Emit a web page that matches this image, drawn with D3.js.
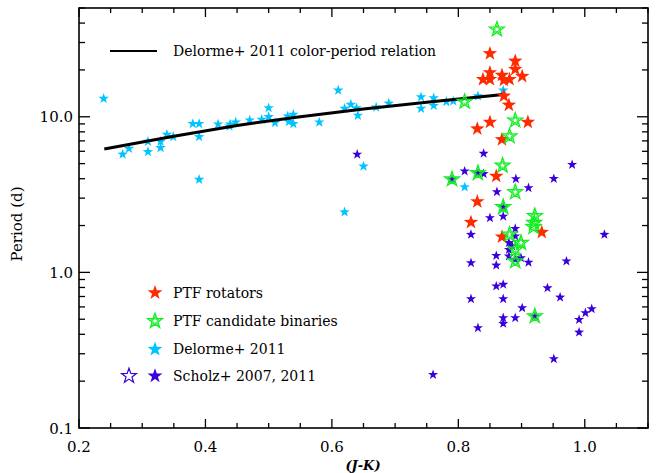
<!DOCTYPE html>
<html><head><meta charset="utf-8">
<script src="https://cdn.jsdelivr.net/npm/d3@7"></script>
<style>body{margin:0;background:#fff}svg{display:block}text{font-family:"DejaVu Serif",serif;fill:#000}</style>
</head><body><svg id="c" width="657" height="473"></svg>
<script>
// ---- data ----
const xTickValues = [0.2, 0.4, 0.6, 0.8, 1.0];
const yTickValues = [0.1, 1, 10];
const xDomain = [0.2, 1.1];
const yDomain = [0.1, 50];

// Delorme+ 2011 color-period relation
const relJK = [0.24, 0.35, 0.45, 0.55, 0.65, 0.75, 0.871];
const relP  = [6.2, 7.5, 8.8, 10.0, 11.2, 12.4, 13.9];

// Delorme+ 2011 (cyan)
const delJK = [0.239,0.269,0.279,0.309,0.309,0.329,0.329,0.339,0.349,0.380,0.390,0.390,0.390,0.420,0.439,0.438,0.448,0.470,0.489,0.500,0.500,0.510,0.530,0.539,0.539,0.532,0.580,0.610,0.620,0.630,0.639,0.641,0.620,0.650,0.670,0.690,0.741,0.741,0.761,0.761,0.781,0.792,0.831,0.871,0.810];
const delP  = [13.1,5.73,6.25,6.93,5.95,6.93,6.32,7.69,7.43,9.02,9.02,7.43,3.95,8.96,8.96,8.7,9.23,9.51,9.61,11.4,10.0,9.15,10.09,10.35,9.02,9.29,9.23,14.8,11.3,12.0,11.4,10.2,2.44,4.81,11.5,12.2,13.4,11.3,13.2,11.8,12.5,12.6,13.6,14.8,3.53];

// PTF rotators (red)
const rotJK = [0.850,0.890,0.890,0.901,0.839,0.850,0.850,0.869,0.872,0.881,0.872,0.880,0.850,0.830,0.910,0.869,0.860,0.830,0.820,0.932,0.869];
const rotP  = [25.5,22.8,20.2,18.2,17.4,17.4,19.2,18.5,17.2,17.4,13.6,11.9,9.23,8.37,9.23,7.14,4.15,2.85,2.10,1.81,1.69];

// PTF candidate binaries (green)
const binJK = [0.861,0.810,0.890,0.881,0.870,0.790,0.831,0.890,0.871,0.921,0.920,0.919,0.881,0.899,0.890,0.890,0.921];
const binP  = [36.4,12.5,9.47,7.5,4.86,3.97,4.35,3.28,2.63,2.30,2.08,1.96,1.75,1.55,1.40,1.18,0.523];

// Scholz+ 2007, 2011 (blue)
const schJK = [0.640,0.840,0.810,0.840,0.891,0.951,0.980,0.911,0.861,0.850,0.871,0.820,0.890,1.031,0.880,0.890,0.880,0.880,0.860,0.860,0.820,0.890,0.911,0.971,0.899,0.860,0.871,0.941,0.820,0.871,0.961,0.901,0.890,0.871,0.871,0.831,0.991,1.001,1.011,0.991,0.951,0.760,0.790,0.831,0.871,0.921,0.885];
const schP  = [5.73,5.81,4.47,4.30,3.99,4.00,4.92,3.49,3.29,2.24,2.29,1.75,1.91,1.75,1.55,1.71,1.40,1.27,1.28,1.11,1.15,1.21,1.16,1.18,1.24,0.815,0.836,0.794,0.676,0.676,0.692,0.591,0.510,0.510,0.469,0.440,0.497,0.549,0.583,0.412,0.278,0.220,3.97,4.35,2.63,0.523,1.48];

const legendLabels = ["PTF rotators","PTF candidate binaries","Delorme+ 2011","Scholz+ 2007, 2011"];
const lineLabel = "Delorme+ 2011 color-period relation";

// ---- styles ----
const C_RED = "#ff2a00", C_GREEN = "#11ee22", C_CYAN = "#00c4ff", C_BLUE = "#3a00dc";

const svg = d3.select("#c");
const L = 79, R = 648, T = 8, B = 428;
const x = d3.scaleLinear().domain(xDomain).range([L, R]);
const y = d3.scaleLog().domain(yDomain).range([B, T]);

function starPath(Rad, ratio) {
  ratio = ratio || 0.4;
  const p = [];
  for (let i = 0; i < 10; i++) {
    const a = -Math.PI / 2 + i * Math.PI / 5;
    const r = i % 2 ? Rad * ratio : Rad;
    p.push([(r * Math.cos(a)).toFixed(2), (r * Math.sin(a)).toFixed(2)]);
  }
  return "M" + p.join("L") + "Z";
}

// minor ticks
const xMinor = d3.range(0.2, 1.1001, 0.05).map(v => +v.toFixed(2));
const yMinor = [];
[0.1, 1, 10].forEach(d => { for (let k = 2; k <= 9; k++) { const v = d * k; if (v <= 50) yMinor.push(v); } });

const ax = svg.append("g");
// frame
ax.append("rect").attr("x", L).attr("y", T).attr("width", R - L).attr("height", B - T)
  .attr("fill", "none").attr("stroke", "#000").attr("stroke-width", 1.6);

// x ticks bottom/top
xMinor.forEach(v => {
  const major = xTickValues.some(t => Math.abs(t - v) < 1e-6);
  const len = major ? 9 : 5;
  ax.append("line").attr("x1", x(v)).attr("x2", x(v)).attr("y1", B).attr("y2", B - len).attr("stroke", "#000").attr("stroke-width", 1.3);
  ax.append("line").attr("x1", x(v)).attr("x2", x(v)).attr("y1", T).attr("y2", T + len).attr("stroke", "#000").attr("stroke-width", 1.3);
});
// y ticks left/right
yTickValues.forEach(v => {
  ax.append("line").attr("x1", L).attr("x2", L + 11).attr("y1", y(v)).attr("y2", y(v)).attr("stroke", "#000").attr("stroke-width", 1.3);
  ax.append("line").attr("x1", R).attr("x2", R - 11).attr("y1", y(v)).attr("y2", y(v)).attr("stroke", "#000").attr("stroke-width", 1.3);
});
yMinor.forEach(v => {
  ax.append("line").attr("x1", L).attr("x2", L + 6).attr("y1", y(v)).attr("y2", y(v)).attr("stroke", "#000").attr("stroke-width", 1.3);
  ax.append("line").attr("x1", R).attr("x2", R - 6).attr("y1", y(v)).attr("y2", y(v)).attr("stroke", "#000").attr("stroke-width", 1.3);
});

// tick labels
const fmt = d3.format(".1f");
xTickValues.forEach(v => {
  ax.append("text").attr("x", x(v)).attr("y", 452).attr("text-anchor", "middle").attr("font-size", 15).text(fmt(v));
});
yTickValues.forEach(v => {
  ax.append("text").attr("x", 73).attr("y", y(v) + 5.5).attr("text-anchor", "end").attr("font-size", 15).text(fmt(v));
});
// axis titles
svg.append("text").attr("x", 363).attr("y", 470).attr("text-anchor", "middle")
  .attr("font-size", 13).attr("font-weight", "bold").attr("font-style", "italic").text("(J-K)");
svg.append("text").attr("transform", "translate(22,224) rotate(-90)").attr("text-anchor", "middle")
  .attr("font-size", 15).text("Period (d)");

// clip
svg.append("clipPath").attr("id", "clip").append("rect").attr("x", L).attr("y", T).attr("width", R - L).attr("height", B - T);
const plot = svg.append("g").attr("clip-path", "url(#clip)");

// Delorme points
const delData = delJK.map((v, i) => [v, delP[i]]);
plot.selectAll("path.del").data(delData).enter().append("path").attr("class", "del")
  .attr("d", starPath(5.5)).attr("transform", d => `translate(${x(d[0])},${y(d[1])})`).attr("fill", C_CYAN);

// relation line
const relData = relJK.map((v, i) => [v, relP[i]]);
plot.append("path").datum(relData).attr("d", d3.line().x(d => x(d[0])).y(d => y(d[1])))
  .attr("fill", "none").attr("stroke", "#000").attr("stroke-width", 3);

// Scholz
const schData = schJK.map((v, i) => [v, schP[i]]);
plot.selectAll("path.sch").data(schData).enter().append("path").attr("class", "sch")
  .attr("d", starPath(5.3)).attr("transform", d => `translate(${x(d[0])},${y(d[1])})`).attr("fill", C_BLUE);

// PTF rotators
const rotData = rotJK.map((v, i) => [v, rotP[i]]);
plot.selectAll("path.rot").data(rotData).enter().append("path").attr("class", "rot")
  .attr("d", starPath(7.6)).attr("transform", d => `translate(${x(d[0])},${y(d[1])})`).attr("fill", C_RED);

// PTF binaries
const binData = binJK.map((v, i) => [v, binP[i]]);
const bg = plot.selectAll("g.bin").data(binData).enter().append("g").attr("class", "bin")
  .attr("transform", d => `translate(${x(d[0])},${y(d[1])})`);
bg.append("path").attr("d", starPath(7.8)).attr("fill", "none").attr("stroke", C_GREEN).attr("stroke-width", 1.3);
bg.append("path").attr("d", starPath(4.2)).attr("fill", "none").attr("stroke", C_GREEN).attr("stroke-width", 1);

// top legend
svg.append("line").attr("x1", 110).attr("x2", 157).attr("y1", 51).attr("y2", 51).attr("stroke", "#000").attr("stroke-width", 2);
svg.append("text").attr("x", 173).attr("y", 56).attr("font-size", 14).text(lineLabel);

// bottom legend
const ly = [292.7, 321, 349.3, 376];
const lx = 155;
svg.append("path").attr("d", starPath(7.8)).attr("transform", `translate(${lx},${ly[0]})`).attr("fill", C_RED);
const lg = svg.append("g").attr("transform", `translate(${lx},${ly[1]})`);
lg.append("path").attr("d", starPath(7.8)).attr("fill", "none").attr("stroke", C_GREEN).attr("stroke-width", 1.3);
lg.append("path").attr("d", starPath(4.2)).attr("fill", "none").attr("stroke", C_GREEN).attr("stroke-width", 1);
svg.append("path").attr("d", starPath(7.8)).attr("transform", `translate(${lx},${ly[2]})`).attr("fill", C_CYAN);
svg.append("path").attr("d", starPath(7.8)).attr("transform", `translate(${lx},${ly[3]})`).attr("fill", C_BLUE);
svg.append("path").attr("d", starPath(7.8)).attr("transform", `translate(129,${ly[3]})`).attr("fill", "none").attr("stroke", C_BLUE).attr("stroke-width", 1.2);
legendLabels.forEach((t, i) => {
  svg.append("text").attr("x", 173).attr("y", ly[i] + 5).attr("font-size", 14).text(t);
});
</script>
</body></html>
